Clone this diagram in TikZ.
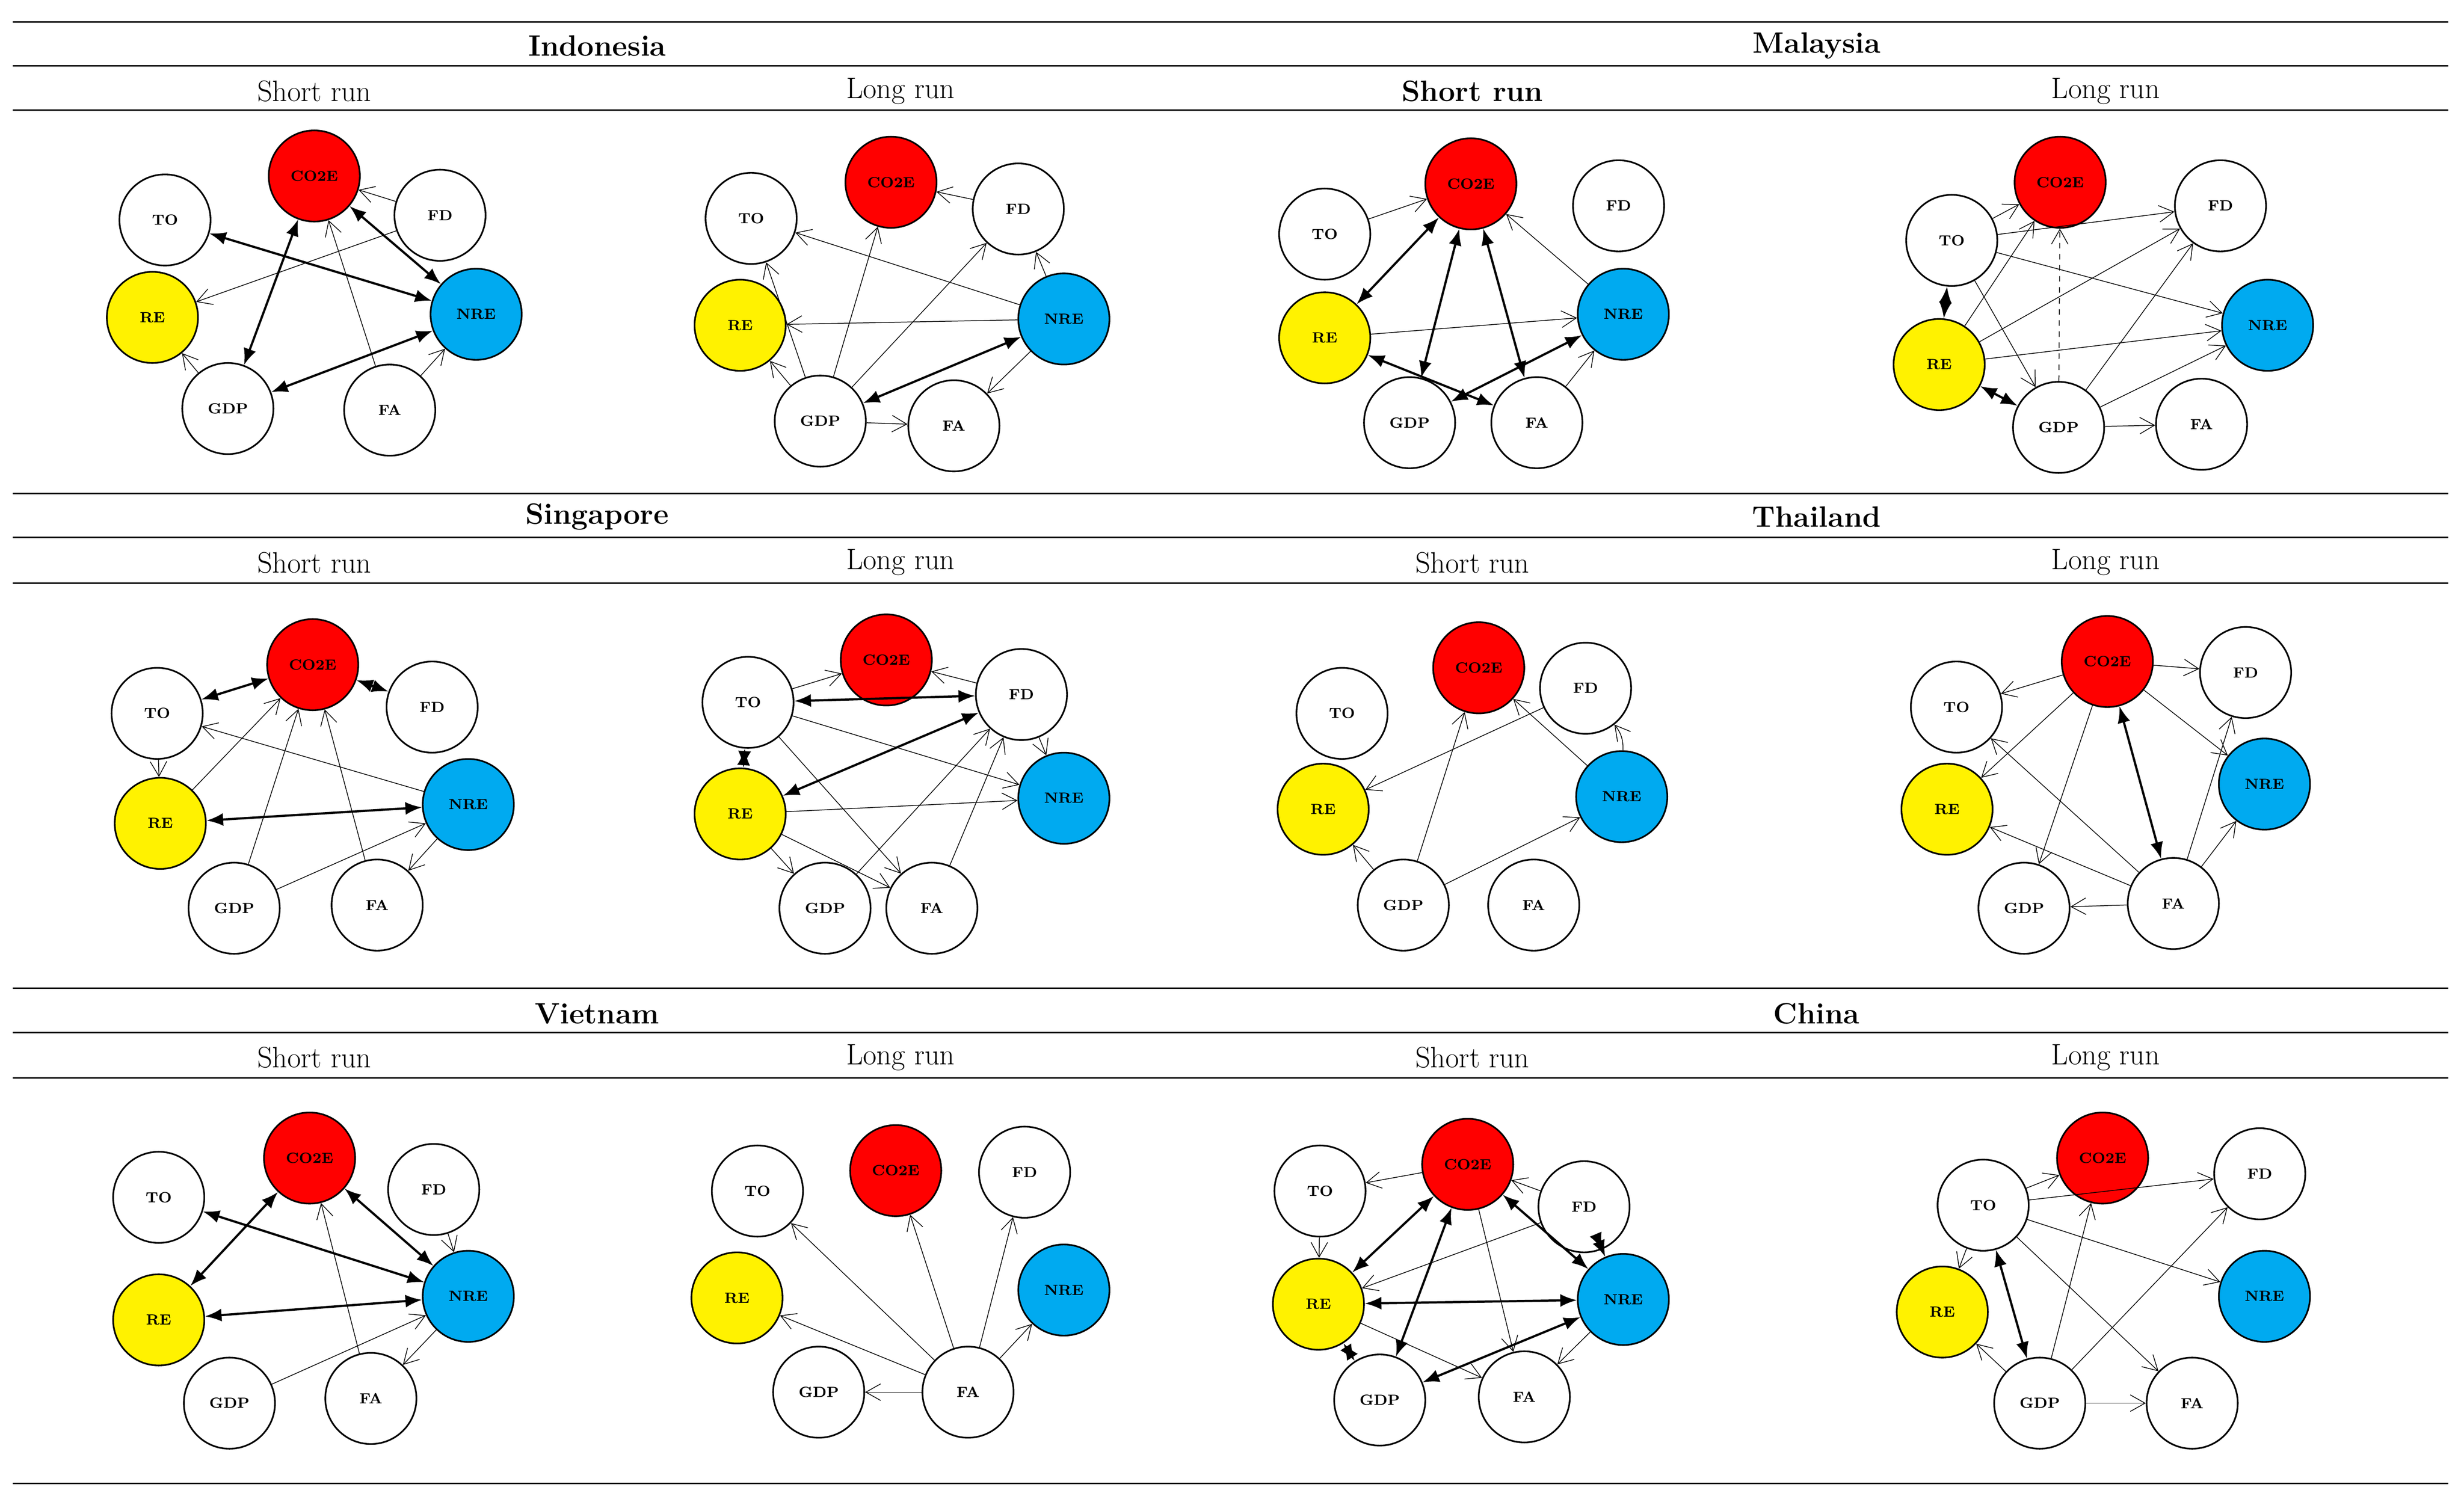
\documentclass[tikz,border=0pt]{standalone}
\usetikzlibrary{arrows.meta}
\begin{document}
\begin{tikzpicture}[x=0.03cm,y=-0.03cm,
 v/.style={circle,draw,line width=0.9pt,minimum size=1.74cm,inner sep=0pt,font=\fontsize{8}{9}\selectfont\bfseries},
 red/.style={v,fill=red}, yel/.style={v,fill=yellow}, blu/.style={v,fill={rgb,255:red,0;green,170;blue,240}},
 th/.style={line width=1.2pt,{Latex[length=9pt,width=7pt]}-{Latex[length=9pt,width=7pt]}},
 tn/.style={line width=0.4pt,-{Straight Barb[length=8pt,width=9pt]}},
 hd/.style={font=\fontsize{16}{18}\selectfont\bfseries},
 sh/.style={font=\fontsize{16}{18}\selectfont},
 hl/.style={line width=0.8pt}]
\useasboundingbox (0,0) rectangle (1568,952);
% rules
\foreach \y in {14,42,70,314,342,371,629,657,686,944} \draw[hl] (8,\y) -- (1558,\y);
\node[hd] (h1) at (380,29) {Indonesia};
\node[hd] (h2) at (1156,29) {Malaysia};
\node[hd] (h3) at (380,329) {Singapore};
\node[hd] (h4) at (1156,329) {Thailand};
\node[hd] (h5) at (380,645) {Vietnam};
\node[hd] (h6) at (1156,645) {China};
\foreach \y/\n in {58/1,358/2,673/3}{
 \node[sh] (s\n a) at (200,\y) {Short run};
 \node[sh] (s\n b) at (573,\y) {Long run};
 \node[sh] (s\n d) at (1340,\y) {Long run};}
\node[sh,font=\fontsize{16}{18}\selectfont\bfseries] (s1c) at (937,58) {Short run};
\node[sh] (s2c) at (937,358) {Short run};
\node[sh] (s3c) at (937,673) {Short run};

% ---------- Indonesia SR
\node[red] (aC) at (200,112) {CO2E};
\node[v] (aFD) at (280,137) {FD};
\node[v] (aTO) at (105,140) {TO};
\node[blu] (aN) at (303,200) {NRE};
\node[yel] (aR) at (97,202) {RE};
\node[v] (aG) at (145,260) {GDP};
\node[v] (aFA) at (248,261) {FA};
\draw[th] (aTO)--(aN); \draw[th] (aC)--(aN); \draw[th] (aC)--(aG); \draw[th] (aG)--(aN);
\draw[tn] (aFD)--(aR); \draw[tn] (aFD)--(aC); \draw[tn] (aFA)--(aC); \draw[tn] (aFA)--(aN); \draw[tn] (aG)--(aR);

% ---------- Indonesia LR
\node[red] (bC) at (567,116) {CO2E};
\node[v] (bTO) at (478,139) {TO};
\node[v] (bFD) at (648,133) {FD};
\node[yel] (bR) at (471,207) {RE};
\node[blu] (bN) at (677,203) {NRE};
\node[v] (bG) at (522,268) {GDP};
\node[v] (bFA) at (607,271) {FA};
\draw[th] (bN)--(bG);
\draw[tn] (bN)--(bTO); \draw[tn] (bN)--(bR); \draw[tn] (bN)--(bFD); \draw[tn] (bN)--(bFA);
\draw[tn] (bFD)--(bC); \draw[tn] (bG)--(bC); \draw[tn] (bG)--(bTO); \draw[tn] (bG)--(bR); \draw[tn] (bG)--(bFA); \draw[tn] (bG)--(bFD);

% ---------- Malaysia SR
\node[red] (cC) at (936,117) {CO2E};
\node[v] (cTO) at (843,149) {TO};
\node[v] (cFD) at (1030,131) {FD};
\node[yel] (cR) at (843,215) {RE};
\node[blu] (cN) at (1033,200) {NRE};
\node[v] (cG) at (897,269) {GDP};
\node[v] (cFA) at (978,269) {FA};
\draw[tn] (cTO)--(cC); \draw[th] (cC)--(cR); \draw[th] (cC)--(cG); \draw[th] (cC)--(cFA);
\draw[tn] (cN)--(cC); \draw[tn] (cR)--(cN); \draw[th] (cR)--(cFA); \draw[th] (cG)--(cN); \draw[tn] (cFA)--(cN);

% ---------- Malaysia LR
\node[red] (dC) at (1311,116) {CO2E};
\node[v] (dTO) at (1242,153) {TO};
\node[v] (dFD) at (1413,131) {FD};
\node[yel] (dR) at (1234,232) {RE};
\node[blu] (dN) at (1443,207) {NRE};
\node[v] (dG) at (1310,272) {GDP};
\node[v] (dFA) at (1401,270) {FA};
\draw[tn] (dTO)--(dC); \draw[th] (dTO)--(dR); \draw[tn] (dTO)--(dG); \draw[th] (dR)--(dG);
\draw[tn] (dTO)--(dFD); \draw[tn] (dTO)--(dN); \draw[tn] (dR)--(dC); \draw[tn] (dR)--(dFD); \draw[tn] (dR)--(dN);
\draw[tn] (dG)--(dN); \draw[tn] (dG)--(dFD); \draw[tn] (dG)--(dFA); \draw[tn,dashed] (dG)--(dC);

% ---------- Singapore SR
\node[red] (eC) at (199,423) {CO2E};
\node[v] (eTO) at (100,454) {TO};
\node[v] (eFD) at (275,450) {FD};
\node[yel] (eR) at (102,524) {RE};
\node[blu] (eN) at (298,512) {NRE};
\node[v] (eG) at (149,578) {GDP};
\node[v] (eFA) at (240,576) {FA};
\draw[th] (eTO)--(eC); \draw[th] (eC)--(eFD); \draw[th] (eR)--(eN);
\draw[tn] (eTO)--(eR); \draw[tn] (eN)--(eTO); \draw[tn] (eR)--(eC); \draw[tn] (eG)--(eC); \draw[tn] (eFA)--(eC);
\draw[tn] (eG)--(eN); \draw[tn] (eN)--(eFA);

% ---------- Singapore LR
\node[red] (fC) at (564,420) {CO2E};
\node[v] (fTO) at (476,447) {TO};
\node[v] (fFD) at (650,442) {FD};
\node[yel] (fR) at (471,518) {RE};
\node[blu] (fN) at (677,508) {NRE};
\node[v] (fG) at (525,578) {GDP};
\node[v] (fFA) at (593,578) {FA};
\draw[th] (fTO)--(fFD); \draw[th] (fTO)--(fR); \draw[th] (fFD)--(fR);
\draw[tn] (fTO)--(fC); \draw[tn] (fFD)--(fC); \draw[tn] (fFD)--(fN); \draw[tn] (fTO)--(fN); \draw[tn] (fTO)--(fFA);
\draw[tn] (fR)--(fG); \draw[tn] (fR)--(fFA); \draw[tn] (fG)--(fFD); \draw[tn] (fFA)--(fFD); \draw[tn] (fR)--(fN);

% ---------- Thailand SR
\node[red] (gC) at (941,425) {CO2E};
\node[v] (gTO) at (854,454) {TO};
\node[v] (gFD) at (1009,438) {FD};
\node[yel] (gR) at (842,515) {RE};
\node[blu] (gN) at (1032,507) {NRE};
\node[v] (gG) at (893,576) {GDP};
\node[v] (gFA) at (976,576) {FA};
\draw[tn] (gFD)--(gR); \draw[tn] (gN)--(gC); \draw[tn] (gG)--(gC); \draw[tn] (gG)--(gN); \draw[tn] (gG)--(gR);
\draw[tn] (gN) to[bend right=20] (gFD);

% ---------- Thailand LR
\node[red] (hC) at (1341,421) {CO2E};
\node[v] (hTO) at (1245,450) {TO};
\node[v] (hFD) at (1429,428) {FD};
\node[yel] (hR) at (1239,515) {RE};
\node[blu] (hN) at (1441,499) {NRE};
\node[v] (hG) at (1288,578) {GDP};
\node[v] (hFA) at (1383,575) {FA};
\draw[tn] (hC)--(hTO); \draw[tn] (hC)--(hFD); \draw[tn] (hC)--(hN); \draw[tn] (hC)--(hR); \draw[tn] (hC)--(hG);
\draw[th] (hC)--(hFA);
\draw[tn] (hFA)--(hTO); \draw[tn] (hFA)--(hR); \draw[tn] (hFA)--(hG); \draw[tn] (hFA)--(hFD); \draw[tn] (hFA)--(hN);

% ---------- Vietnam SR
\node[red] (iC) at (197,737) {CO2E};
\node[v] (iTO) at (101,762) {TO};
\node[v] (iFD) at (276,757) {FD};
\node[yel] (iR) at (101,840) {RE};
\node[blu] (iN) at (298,825) {NRE};
\node[v] (iG) at (146,893) {GDP};
\node[v] (iFA) at (236,890) {FA};
\draw[th] (iR)--(iC); \draw[th] (iR)--(iN); \draw[th] (iTO)--(iN); \draw[th] (iC)--(iN);
\draw[tn] (iFA)--(iC); \draw[tn] (iG)--(iN); \draw[tn] (iN)--(iFA); \draw[tn] (iFD)--(iN);

% ---------- Vietnam LR
\node[red] (jC) at (570,745) {CO2E};
\node[v] (jTO) at (482,758) {TO};
\node[v] (jFD) at (652,746) {FD};
\node[yel] (jR) at (469,826) {RE};
\node[blu] (jN) at (677,821) {NRE};
\node[v] (jG) at (521,886) {GDP};
\node[v] (jFA) at (616,886) {FA};
\foreach \t in {jTO,jC,jFD,jR,jN,jG} \draw[tn] (jFA)--(\t);

% ---------- China SR
\node[red] (kC) at (934,741) {CO2E};
\node[v] (kTO) at (840,758) {TO};
\node[v] (kFD) at (1008,768) {FD};
\node[yel] (kR) at (839,830) {RE};
\node[blu] (kN) at (1033,827) {NRE};
\node[v] (kG) at (878,891) {GDP};
\node[v] (kFA) at (970,889) {FA};
\draw[tn] (kC)--(kTO); \draw[th] (kR)--(kC); \draw[th] (kC)--(kN); \draw[th] (kC)--(kG); \draw[tn] (kC)--(kFA);
\draw[th] (kFD)--(kN); \draw[th] (kR)--(kN); \draw[th] (kR)--(kG); \draw[th] (kN)--(kG);
\draw[tn] (kTO)--(kR); \draw[tn] (kFD)--(kR); \draw[tn] (kR)--(kFA); \draw[tn] (kN)--(kFA); \draw[tn] (kFD)--(kC);

% ---------- China LR
\node[red] (lC) at (1338,737) {CO2E};
\node[v] (lTO) at (1262,767) {TO};
\node[v] (lFD) at (1438,747) {FD};
\node[yel] (lR) at (1236,835) {RE};
\node[blu] (lN) at (1441,825) {NRE};
\node[v] (lG) at (1298,893) {GDP};
\node[v] (lFA) at (1395,893) {FA};
\draw[tn] (lTO)--(lC); \draw[th] (lTO)--(lG); \draw[tn] (lTO)--(lR); \draw[tn] (lTO)--(lFD); \draw[tn] (lTO)--(lN); \draw[tn] (lTO)--(lFA);
\draw[tn] (lG)--(lC); \draw[tn] (lG)--(lFD); \draw[tn] (lG)--(lR); \draw[tn] (lG)--(lFA);
\end{tikzpicture}
\end{document}
